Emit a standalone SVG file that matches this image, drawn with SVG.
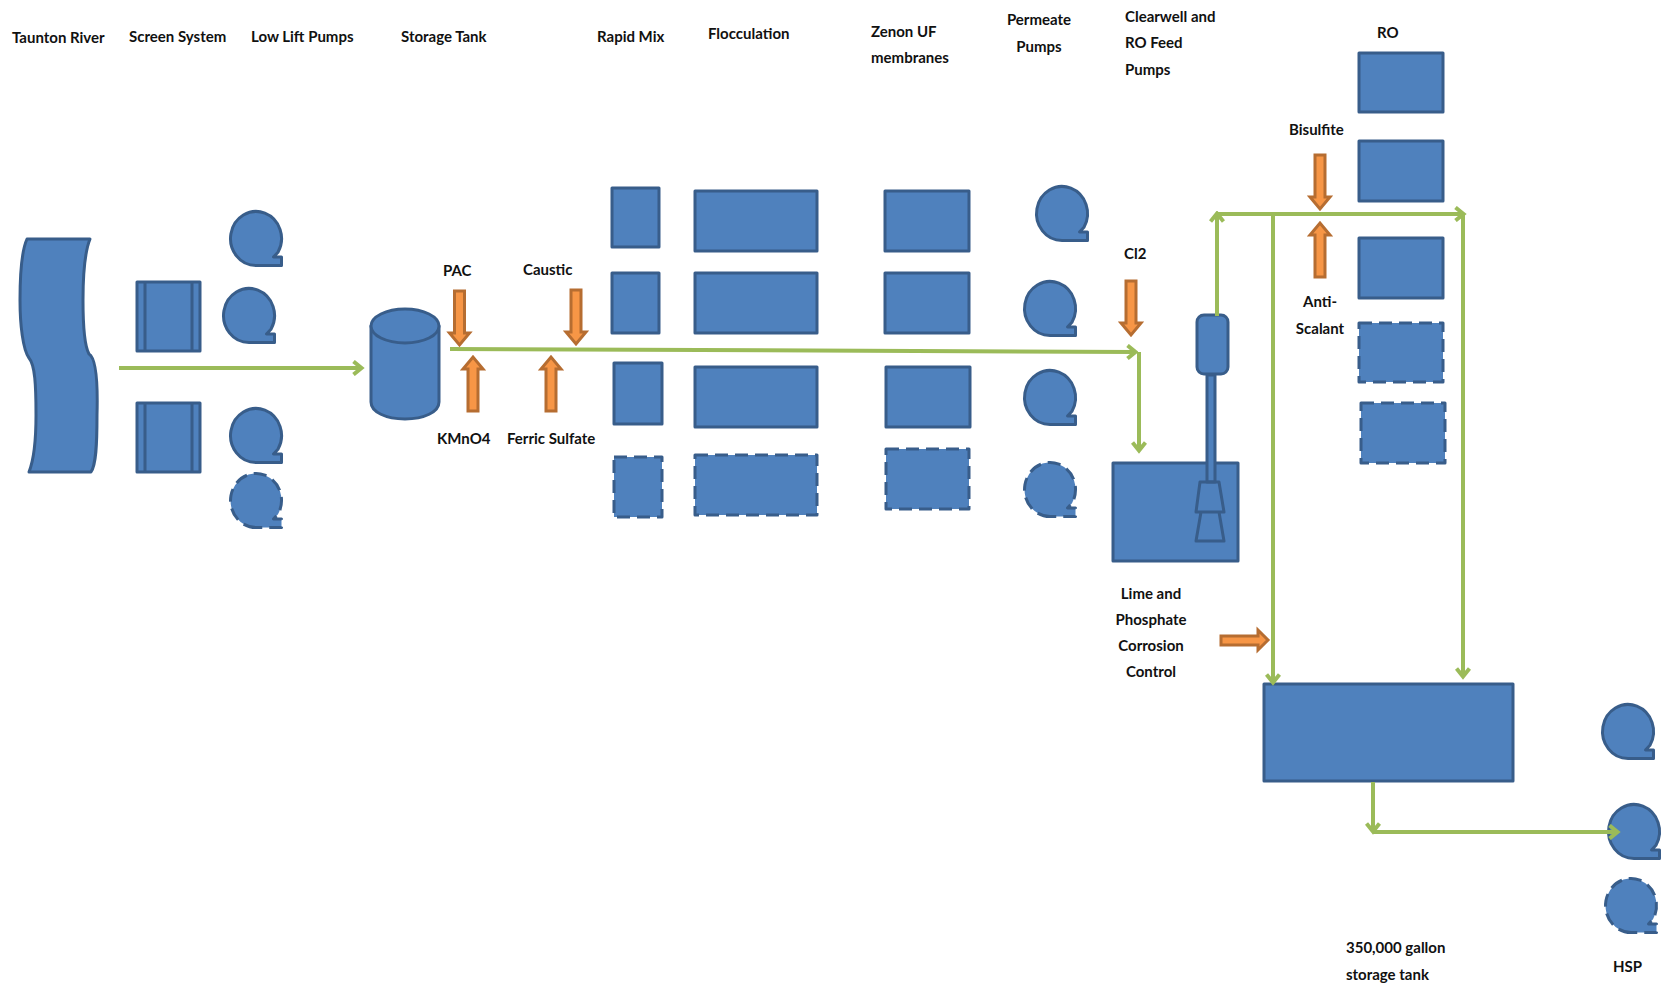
<svg xmlns="http://www.w3.org/2000/svg" width="1664" height="987" viewBox="0 0 1664 987">
<style>
.s{fill:#4F81BD;stroke:#385D8A;stroke-width:3;stroke-linejoin:round}
.d{stroke-dasharray:13 7}
.none{fill:none}
.c{fill:none;stroke:#9BBB59;stroke-width:4;stroke-linecap:butt}
.o{fill:#F79646;stroke:#B66D31;stroke-width:3;stroke-linejoin:miter}
text{font-family:Lato,"Open Sans",sans-serif;font-weight:700;font-size:15px;fill:#111}
.m{text-anchor:middle}
</style>
<defs>
<marker id="a" viewBox="0 0 16 16" refX="13.5" refY="8" markerWidth="16" markerHeight="16" markerUnits="userSpaceOnUse" orient="auto"><path d="M5 1.500 L13 8 L5 14.500" fill="none" stroke="#9BBB59" stroke-width="4"/></marker>
<path id="p" d="M27 55.500 A25.500 27 0 1 1 49 42.200 L44.500 47 H52.500 V55.500 Z"/>
<path id="o" d="M-5 0 H5 V42 H10 L0 54 L-10 42 H-5 Z"/>
</defs>
<rect width="1664" height="987" fill="#fff"/>
<g id="river"><path class="s" d="M27 239H90C84 254 83 280 83 300C83 325 84 345 89 354C96 358 98 380 97 415C97 445 96 465 91 472H29C33 462 36 445 36 415C36 385 35 365 29 358C23 350 20 325 20 300C20 275 22 250 27 239Z"/></g>
<g id="screen1"><rect class="s" x="137" y="282" width="63" height="69"/><path class="s none" d="M145 282V351M192 282V351"/></g>
<g id="screen2"><rect class="s" x="137" y="403" width="63" height="69"/><path class="s none" d="M145 403V472M192 403V472"/></g>
<g id="llp1"><use href="#p" class="s" x="229" y="210"/></g>
<g id="llp2"><use href="#p" class="s" x="222" y="287"/></g>
<g id="llp3"><use href="#p" class="s" x="229" y="407"/></g>
<g id="llp4"><use href="#p" class="s d" x="229" y="472"/></g>
<g id="storage"><path class="s" d="M371 326V402C371 412 386 419 405 419C424 419 439 412 439 402V326Z"/><ellipse class="s" cx="405" cy="326" rx="34" ry="17"/></g>
<g id="rm1"><rect class="s" x="612" y="188" width="47" height="59"/></g>
<g id="rm2"><rect class="s" x="612" y="273" width="47" height="60"/></g>
<g id="rm3"><rect class="s" x="614" y="363" width="48" height="61"/></g>
<g id="rm4"><rect class="s d" x="614" y="457" width="48" height="60"/></g>
<g id="fl1"><rect class="s" x="695" y="191" width="122" height="60"/></g>
<g id="fl2"><rect class="s" x="695" y="273" width="122" height="60"/></g>
<g id="fl3"><rect class="s" x="695" y="367" width="122" height="60"/></g>
<g id="fl4"><rect class="s d" x="695" y="455" width="122" height="60"/></g>
<g id="uf1"><rect class="s" x="885" y="191" width="84" height="60"/></g>
<g id="uf2"><rect class="s" x="885" y="273" width="84" height="60"/></g>
<g id="uf3"><rect class="s" x="886" y="367" width="84" height="60"/></g>
<g id="uf4"><rect class="s d" x="886" y="449" width="83" height="60"/></g>
<g id="pp1"><use href="#p" class="s" x="1035" y="185"/></g>
<g id="pp2"><use href="#p" class="s" x="1023" y="280"/></g>
<g id="pp3"><use href="#p" class="s" x="1023" y="369"/></g>
<g id="pp4"><use href="#p" class="s d" x="1023" y="461"/></g>
<g id="clearwell"><rect class="s" x="1113" y="463" width="125" height="98"/></g>
<g id="mixer"><rect class="s" x="1207" y="375" width="8" height="107"/><rect class="s" x="1197" y="315" width="31" height="59" rx="7"/><path class="s none" d="M1200 482H1219L1224 512H1196ZM1201 512H1219L1224 541H1196Z"/></g>
<g id="ro1"><rect class="s" x="1359" y="53" width="84" height="59"/></g>
<g id="ro2"><rect class="s" x="1359" y="141" width="84" height="60"/></g>
<g id="ro3"><rect class="s" x="1359" y="238" width="84" height="60"/></g>
<g id="ro4"><rect class="s d" x="1359" y="323" width="84" height="59"/></g>
<g id="ro5"><rect class="s d" x="1361" y="403" width="84" height="60"/></g>
<g id="tank350"><rect class="s" x="1264" y="684" width="249" height="97"/></g>
<g id="hsp1"><use href="#p" class="s" x="1601" y="703"/></g>
<g id="hsp2"><use href="#p" class="s" x="1607" y="803"/></g>
<g id="hsp3"><use href="#p" class="s d" x="1604" y="877"/></g>
<g id="chem-pac"><use href="#o" class="o" transform="translate(459.500 291)"/></g>
<g id="chem-kmno4"><use href="#o" class="o" transform="translate(473 411) rotate(180)"/></g>
<g id="chem-caustic"><use href="#o" class="o" transform="translate(576 290)"/></g>
<g id="chem-ferric"><use href="#o" class="o" transform="translate(551 411) rotate(180)"/></g>
<g id="chem-cl2"><use href="#o" class="o" transform="translate(1131 281)"/></g>
<g id="chem-bisulfite"><use href="#o" class="o" transform="translate(1320 155)"/></g>
<g id="chem-antiscalant"><use href="#o" class="o" transform="translate(1320 277) rotate(180)"/></g>
<g id="chem-lime"><path class="o" d="M1221 636H1258V630L1268 640L1258 650V645H1221Z"/></g>
<g id="connectors">
<path class="c" d="M119 368H362" marker-end="url(#a)"/>
<path class="c" d="M450 349L1136 352" marker-end="url(#a)"/>
<path class="c" d="M1139 352V451" marker-end="url(#a)"/>
<path class="c" d="M1217 316V213" marker-end="url(#a)"/>
<path class="c" d="M1217 214H1464" marker-end="url(#a)"/>
<path class="c" d="M1463 214V677" marker-end="url(#a)"/>
<path class="c" d="M1273 214V683" marker-end="url(#a)"/>
<path class="c" d="M1373 782V832" marker-end="url(#a)"/>
<path class="c" d="M1373 832H1618" marker-end="url(#a)"/>
</g>
<g id="labels">
<text x="12" y="43">Taunton River</text>
<text x="129" y="42">Screen System</text>
<text x="251" y="42">Low Lift Pumps</text>
<text x="401" y="42">Storage Tank</text>
<text x="597" y="42">Rapid Mix</text>
<text x="708" y="39">Flocculation</text>
<text x="871" y="37">Zenon UF</text>
<text x="871" y="63">membranes</text>
<text x="1039" y="25" class="m">Permeate</text>
<text x="1039" y="52" class="m">Pumps</text>
<text x="1125" y="22">Clearwell and</text>
<text x="1125" y="48">RO Feed</text>
<text x="1125" y="75">Pumps</text>
<text x="1377" y="38">RO</text>
<text x="1289" y="135">Bisulfite</text>
<text x="1124" y="259">Cl2</text>
<text x="1320" y="307" class="m">Anti-</text>
<text x="1320" y="334" class="m">Scalant</text>
<text x="443" y="276">PAC</text>
<text x="523" y="275">Caustic</text>
<text x="437" y="444">KMnO4</text>
<text x="507" y="444">Ferric Sulfate</text>
<text x="1151" y="599" class="m">Lime and</text>
<text x="1151" y="625" class="m">Phosphate</text>
<text x="1151" y="651" class="m">Corrosion</text>
<text x="1151" y="677" class="m">Control</text>
<text x="1346" y="953">350,000 gallon</text>
<text x="1346" y="980">storage tank</text>
<text x="1613" y="972">HSP</text>
</g>
</svg>
